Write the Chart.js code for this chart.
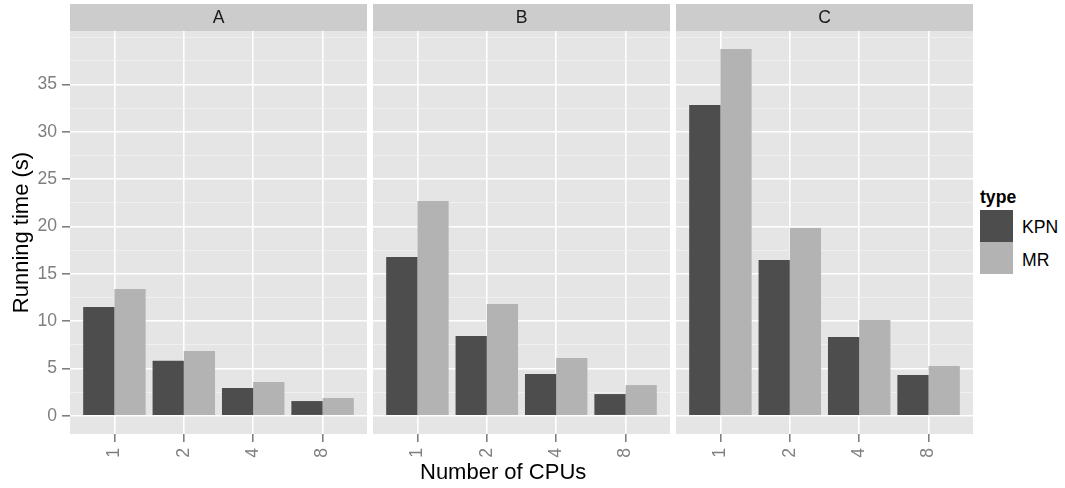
<!DOCTYPE html>
<html>
<head>
<meta charset="utf-8">
<script src="https://cdn.jsdelivr.net/npm/chart.js@4.4.1/dist/chart.umd.min.js"></script>
<style>
body{margin:0;background:#fff;width:1065px;height:488px;overflow:hidden;position:relative;font-family:"Liberation Sans",Arial,sans-serif;}
canvas{position:absolute;top:0;}
.lbl{position:absolute;white-space:nowrap;}
.key{position:absolute;left:980px;width:33px;}
</style>
</head>
<body>
<canvas id="pA" width="367" height="488" style="left:0px"></canvas>
<canvas id="pB" width="297" height="488" style="left:373px"></canvas>
<canvas id="pC" width="297" height="488" style="left:676px"></canvas>
<div class="lbl" style="left:420px;top:461px;font-size:22px;line-height:22px;color:#000">Number of CPUs</div>
<div class="lbl" style="left:980px;top:188px;font-size:17.6px;line-height:18px;font-weight:bold;color:#000">type</div>
<div class="key" style="top:210px;height:32px;background:#4d4d4d"></div>
<div class="key" style="top:242px;height:32px;background:#b3b3b3"></div>
<div class="lbl" style="left:1022px;top:218px;font-size:17.6px;line-height:18px;color:#000">KPN</div>
<div class="lbl" style="left:1022px;top:251px;font-size:17.6px;line-height:18px;color:#000">MR</div>
<script>
// number of CPUs on the x axis
var cpus = ['1', '2', '4', '8'];
var yTicks = [0, 5, 10, 15, 20, 25, 30, 35];

// running time (s) per panel
var kpnA = [11.5, 5.8, 2.93, 1.55];
var mrA  = [13.4, 6.84, 3.56, 1.87];
var kpnB = [16.78, 8.43, 4.41, 2.29];
var mrB  = [22.7, 11.81, 6.1, 3.24];
var kpnC = [32.85, 16.46, 8.32, 4.3];
var mrC  = [38.77, 19.85, 10.11, 5.25];

var font = '"Liberation Sans", Arial, sans-serif';

function pts(arr) {
    return arr.map(function (v, i) { return { x: i, y: v }; });
}

function isMajor(v) {
    return yTicks.indexOf(v) !== -1;
}

var panelBg = {
    id: 'panelBg',
    beforeDraw: function (chart, args, opts) {
        var a = chart.chartArea, c = chart.ctx;
        c.save();
        c.fillStyle = '#e5e5e5';
        c.fillRect(a.left, a.top, a.right - a.left, a.bottom - a.top);
        // strip
        c.fillStyle = '#cccccc';
        c.fillRect(a.left, 4, a.right - a.left, a.top - 4);
        c.fillStyle = '#1a1a1a';
        c.font = '17.6px ' + font;
        c.textAlign = 'center';
        c.textBaseline = 'middle';
        c.fillText(opts.strip, (a.left + a.right) / 2, (a.top + 4) / 2 + 1);
        c.restore();
    }
};

function makePanel(id, letter, kpn, mr, showY) {
    var ctx = document.getElementById(id).getContext('2d');
    return new Chart(ctx, {
        type: 'bar',
        data: {
            datasets: [{
                label: 'KPN',
                data: pts(kpn),
                backgroundColor: '#4d4d4d',
                borderWidth: 0
            }, {
                label: 'MR',
                data: pts(mr),
                backgroundColor: '#b3b3b3',
                borderWidth: 0
            }]
        },
        options: {
            responsive: false,
            animation: false,
            devicePixelRatio: 1,
            events: [],
            categoryPercentage: 0.9,
            barPercentage: 1.0,
            layout: { padding: { top: 31, left: 0, right: 0, bottom: 0 } },
            scales: {
                x: {
                    type: 'linear',
                    offset: false,
                    min: -0.64,
                    max: 3.64,
                    afterBuildTicks: function (s) {
                        s.ticks = cpus.map(function (c, i) { return { value: i }; });
                    },
                    afterFit: function (s) { s.height = 54; },
                    border: { display: false },
                    grid: {
                        offset: false,
                        color: '#ffffff',
                        lineWidth: 1.6,
                        tickColor: '#7f7f7f',
                        tickLength: 8
                    },
                    ticks: {
                        autoSkip: false,
                        minRotation: 90,
                        maxRotation: 90,
                        padding: 6,
                        color: '#7f7f7f',
                        font: { family: font, size: 17.6 },
                        callback: function (v) { return cpus[v]; }
                    }
                },
                y: {
                    min: -1.93,
                    max: 40.66,
                    afterBuildTicks: function (s) {
                        var t = [];
                        for (var v = 0; v <= 40; v += 2.5) t.push({ value: v });
                        s.ticks = t;
                    },
                    afterFit: function (s) { s.width = showY ? 70 : 0; },
                    border: { display: false },
                    grid: {
                        drawTicks: showY,
                        tickLength: 8,
                        color: function (c) { return c.tick && isMajor(c.tick.value) ? '#ffffff' : '#f2f2f2'; },
                        lineWidth: function (c) { return c.tick && isMajor(c.tick.value) ? 1.6 : 0.8; },
                        tickColor: function (c) { return c.tick && isMajor(c.tick.value) ? '#7f7f7f' : 'rgba(0,0,0,0)'; }
                    },
                    ticks: {
                        display: showY,
                        autoSkip: false,
                        padding: 5,
                        color: '#7f7f7f',
                        font: { family: font, size: 17.6 },
                        callback: function (v) { return isMajor(v) ? String(v) : ''; }
                    },
                    title: {
                        display: showY,
                        text: 'Running time (s)',
                        color: '#000000',
                        font: { family: font, size: 22 },
                        padding: { top: 9, bottom: 0 }
                    }
                }
            },
            plugins: {
                legend: { display: false },
                tooltip: { enabled: false },
                panelBg: { strip: letter }
            }
        },
        plugins: [panelBg]
    });
}

makePanel('pA', 'A', kpnA, mrA, true);
makePanel('pB', 'B', kpnB, mrB, false);
makePanel('pC', 'C', kpnC, mrC, false);
</script>
</body>
</html>
